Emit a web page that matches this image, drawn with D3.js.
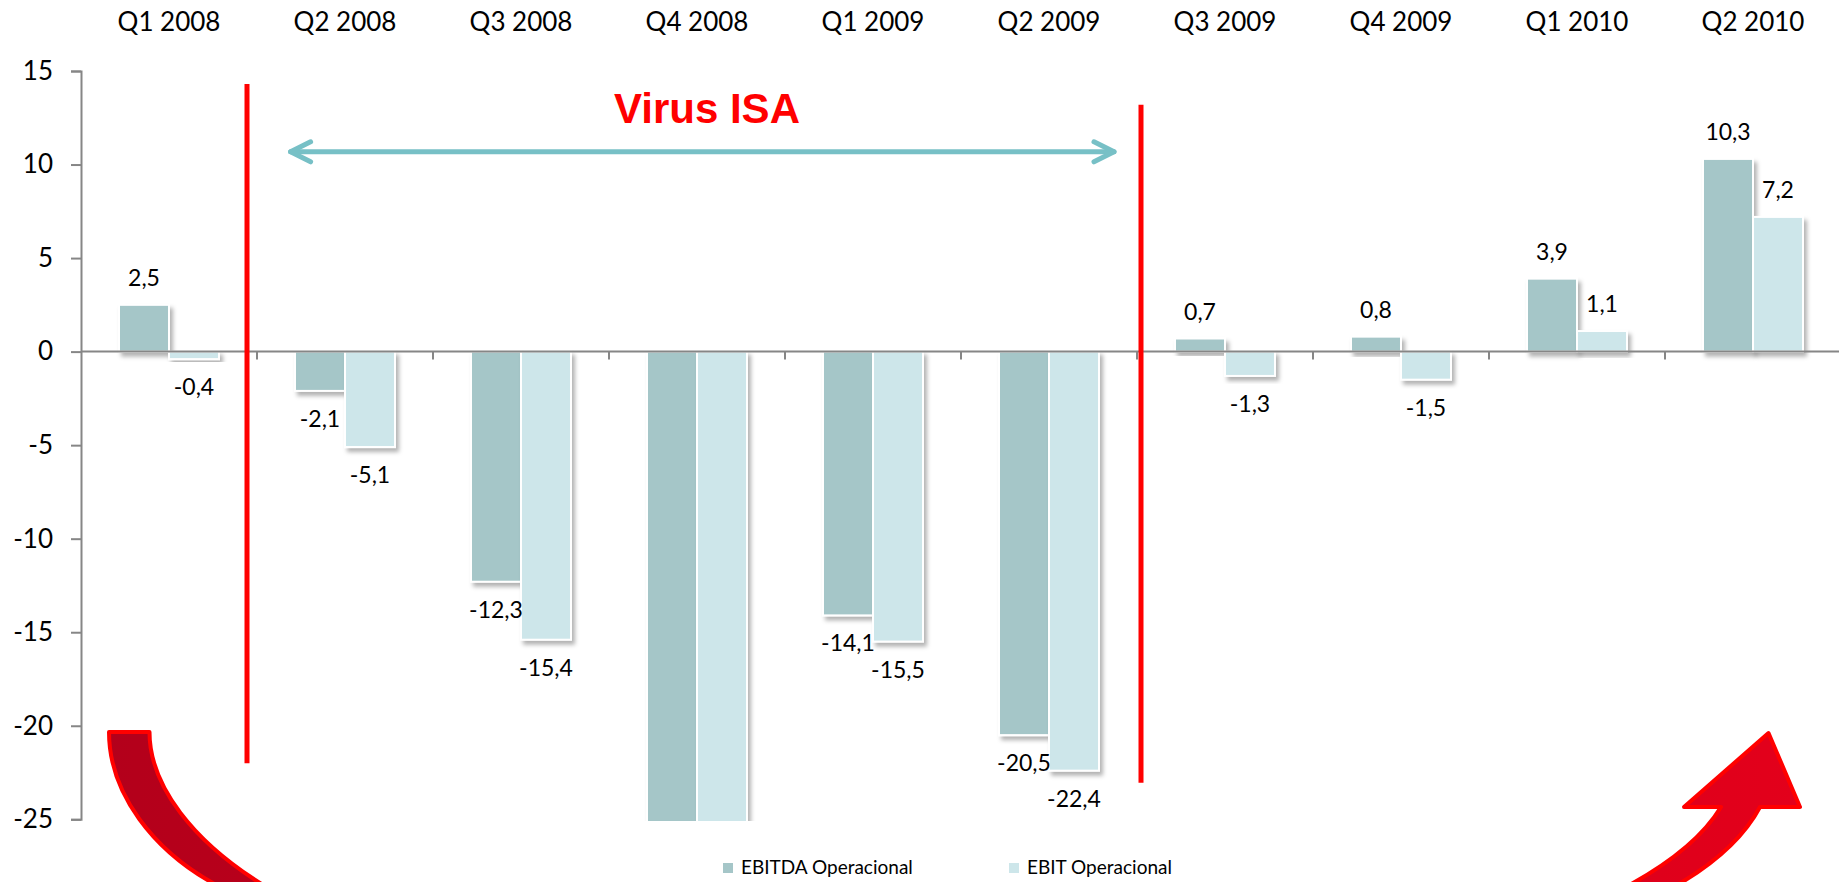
<!DOCTYPE html>
<html>
<head>
<meta charset="utf-8">
<script src="https://cdn.jsdelivr.net/npm/d3@7"></script>
<style>
  body { margin: 0; background: #fff; }
  text { font-family: Lato, "Open Sans", sans-serif; }
</style>
</head>
<body>
<div class="chart"></div>
<script>
// data (Q4 2008 runs past the bottom of the axis, so estimated)
var quarters = ["Q1 2008", "Q2 2008", "Q3 2008", "Q4 2008", "Q1 2009",
                "Q2 2009", "Q3 2009", "Q4 2009", "Q1 2010", "Q2 2010"];
var ebitda = [2.5, -2.1, -12.3, -27.6, -14.1, -20.5, 0.7, 0.8, 3.9, 10.3];
var ebit = [-0.4, -5.1, -15.4, -30.2, -15.5, -22.4, -1.3, -1.5, 1.1, 7.2];
var seriesNames = ["EBITDA Operacional", "EBIT Operacional"];
var yTicks = [15, 10, 5, 0, -5, -10, -15, -20, -25];
var annotation = "Virus ISA";

var svgW = 1839;
var svgH = 882;
var colors = ["#a5c6c8", "#cde6ea"];
var axisColor = "#868686";

var svg = d3.select(".chart")
    .append("svg")
    .attr("width", svgW)
    .attr("height", svgH)
    .style("display", "block");

var defs = svg.append("defs");

var shadow = defs.append("filter")
    .attr("id", "shadow")
    .attr("x", "-20%").attr("y", "-20%")
    .attr("width", "150%").attr("height", "150%");
shadow.append("feDropShadow")
    .attr("dx", 3).attr("dy", 4)
    .attr("stdDeviation", 2)
    .attr("flood-color", "#000")
    .attr("flood-opacity", 0.3);

defs.append("clipPath").attr("id", "plot")
    .append("rect")
    .attr("x", 70).attr("y", 40)
    .attr("width", 1780).attr("height", 781);

var grad = defs.append("linearGradient")
    .attr("id", "redGrad")
    .attr("gradientUnits", "userSpaceOnUse")
    .attr("x1", 100).attr("x2", 1800)
    .attr("y1", 0).attr("y2", 0);
grad.append("stop").attr("offset", "0").attr("stop-color", "#b3001b");
grad.append("stop").attr("offset", "1").attr("stop-color", "#e3001b");

var x0 = d3.scaleBand().domain(quarters).range([81, 1841]);
var x1 = d3.scaleBand().domain(seriesNames)
    .range([0, x0.bandwidth()])
    .paddingInner(0)
    .paddingOuter(0.76);
var y = d3.scaleLinear().domain([-25, 15]).range([819.3, 71]);

function fmt(v) {
    return d3.format(".1f")(v).replace(".", ",").replace("\u2212", "-");
}

// y axis
var lAxis = d3.axisLeft(y)
    .tickValues(yTicks)
    .tickSize(10)
    .tickPadding(18)
    .tickFormat(function(d) { return String(d); });

var yG = svg.append("g")
    .attr("transform", "translate(81,0)")
    .call(lAxis);
yG.select(".domain").attr("stroke", axisColor).attr("stroke-width", 2);
yG.selectAll(".tick line").attr("stroke", axisColor).attr("stroke-width", 2);
yG.selectAll(".tick text")
    .attr("fill", "#000")
    .style("font-size", "26px")
    .style("font-family", "Lato, sans-serif");

// category labels along the top
var tAxis = d3.axisTop(x0).tickSize(0).tickPadding(0);
var tG = svg.append("g")
    .attr("transform", "translate(0,31)")
    .call(tAxis);
tG.select(".domain").remove();
tG.selectAll("text")
    .attr("fill", "#000")
    .style("font-size", "26px")
    .style("font-family", "Lato, sans-serif");

// bars, one series after the other so later bars sit over earlier labels
var plot = svg.append("g").attr("clip-path", "url(#plot)");
var allSeries = [ebitda, ebit];

allSeries.forEach(function(vals, si) {
    var rows = quarters.map(function(q, i) { return { q: q, v: vals[i] }; });

    plot.append("g").selectAll("rect")
        .data(rows)
        .enter()
        .append("rect")
        .attr("x", function(d) { return x0(d.q) + x1(seriesNames[si]); })
        .attr("y", function(d) { return Math.min(y(d.v), y(0)); })
        .attr("width", x1.bandwidth())
        .attr("height", function(d) { return Math.abs(y(d.v) - y(0)); })
        .attr("fill", colors[si])
        .attr("stroke", "#fff")
        .attr("stroke-width", 2)
        .attr("filter", "url(#shadow)");

    svg.append("g").selectAll("text")
        .data(rows.filter(function(d) { return d.v >= -25 && d.v <= 15; }))
        .enter()
        .append("text")
        .attr("x", function(d) { return x0(d.q) + x1(seriesNames[si]) + x1.bandwidth() / 2; })
        .attr("y", function(d) { return d.v >= 0 ? y(d.v) - 19 : y(d.v) + 36; })
        .attr("text-anchor", "middle")
        .style("font-size", "23px")
        .attr("fill", "#000")
        .text(function(d) { return fmt(d.v); });
});

// zero line with category ticks
var bAxis = d3.axisBottom(x0)
    .tickSize(8)
    .tickFormat("");
var xG = svg.append("g")
    .attr("transform", "translate(0," + y(0) + ")")
    .call(bAxis);
xG.select(".domain").attr("stroke", axisColor).attr("stroke-width", 2)
    .attr("d", "M81,0H1841");
xG.selectAll(".tick").attr("transform", function(d) {
    return "translate(" + (x0(d) + x0.bandwidth()) + ",0)";
});
xG.selectAll(".tick line").attr("stroke", axisColor).attr("stroke-width", 2);

// red separators around the virus period
var sepLines = [
    { x: x0("Q2 2008") - 10, top: 14.3, bottom: -22.0 },
    { x: x0("Q3 2009") + 4, top: 13.2, bottom: -23.05 }
];
svg.selectAll(".sep")
    .data(sepLines)
    .enter()
    .append("line")
    .attr("class", "sep")
    .attr("x1", function(d) { return d.x; })
    .attr("x2", function(d) { return d.x; })
    .attr("y1", function(d) { return y(d.top); })
    .attr("y2", function(d) { return y(d.bottom); })
    .attr("stroke", "#ff0000")
    .attr("stroke-width", 5);

// double headed arrow + title
var arrY = y(10.68);
var arrL = x0("Q2 2008") + 33.6;
var arrR = x0("Q2 2009") + x0.bandwidth() - 23;
var teal = "#77c0c6";
var ar = svg.append("g")
    .attr("stroke", teal)
    .attr("stroke-width", 5)
    .attr("stroke-linecap", "round")
    .attr("stroke-linejoin", "round")
    .attr("fill", "none");
ar.append("line").attr("x1", arrL).attr("x2", arrR).attr("y1", arrY).attr("y2", arrY);
ar.append("path").attr("d", "M" + (arrL + 20) + "," + (arrY - 10) + "L" + arrL + "," + arrY + "L" + (arrL + 20) + "," + (arrY + 10));
ar.append("path").attr("d", "M" + (arrR - 20) + "," + (arrY - 10) + "L" + arrR + "," + arrY + "L" + (arrR - 20) + "," + (arrY + 10));

svg.append("text")
    .attr("x", 614)
    .attr("y", 123)
    .attr("fill", "#ff0000")
    .style("font-family", "'Liberation Sans', Arial, sans-serif")
    .style("font-weight", "bold")
    .style("font-size", "42px")
    .text(annotation);

// big red turn-around arrow (two visible ends)
var redArrows = svg.append("g")
    .attr("fill", "url(#redGrad)")
    .attr("stroke", "#ff0000")
    .attr("stroke-width", 4)
    .attr("stroke-linejoin", "round");
redArrows.append("path")
    .attr("d", "M109,732 L149.5,732 C149.5,785 192,842 268,888 L222,888 C152,852 109,792 109,732 Z");
redArrows.append("path")
    .attr("d", "M1768.5,733 L1800,807 L1760,807 Q1736,852 1672,888 L1624,888 Q1695,850 1721,807 L1684,807 Z");

// legend
var legend = svg.append("g");
var legX = [723, 1009];
seriesNames.forEach(function(name, i) {
    legend.append("rect")
        .attr("x", legX[i]).attr("y", 863)
        .attr("width", 10).attr("height", 10)
        .attr("fill", colors[i]);
    legend.append("text")
        .attr("x", legX[i] + 18)
        .attr("y", 874)
        .style("font-size", "19px")
        .attr("fill", "#000")
        .text(name);
});
</script>
</body>
</html>
